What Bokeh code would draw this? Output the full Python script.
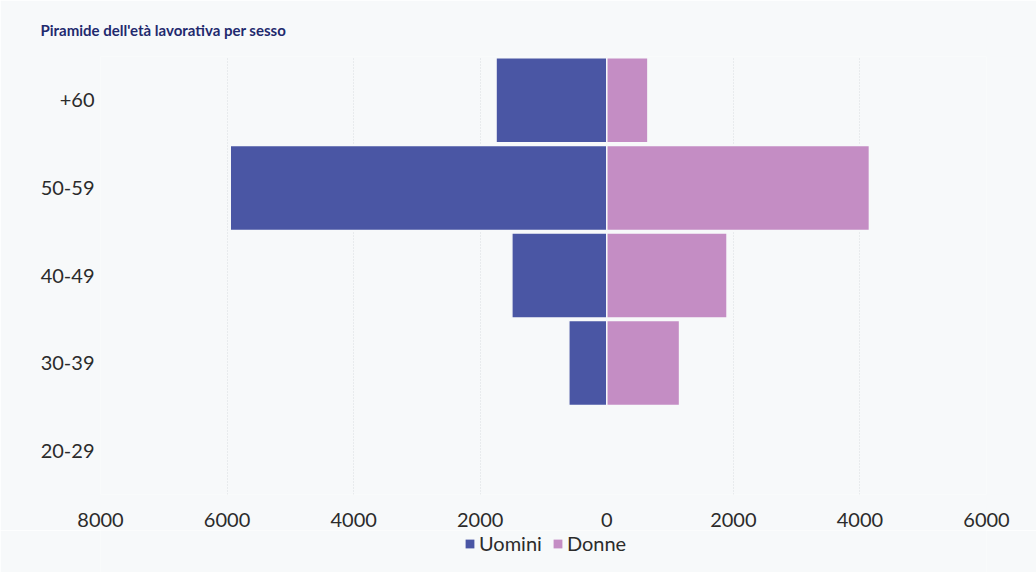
from bokeh.plotting import figure
from bokeh.layouts import column
from bokeh.models import (FactorRange, FixedTicker, CustomJSTickFormatter, Legend,
                          LegendItem, ColumnDataSource)
from bokeh.embed import file_html
from bokeh.resources import INLINE

age_groups = ["20-29", "30-39", "40-49", "50-59", "+60"]
uomini = [0, 600, 1500, 5950, 1750]
donne = [0, 1150, 1900, 4150, 650]
x_ticks = [-8000, -6000, -4000, -2000, 0, 2000, 4000, 6000]
series_names = ["Uomini", "Donne"]
title_text = "Piramide dell'età lavorativa per sesso"

BG = "#f7f9fa"
BLUE = "#4a56a4"
PINK = "#c48dc4"
FONT = "Lato"
TXT = "#2b2b2b"

src = ColumnDataSource(dict(age=age_groups,
                            uomini=[-v for v in uomini],
                            donne=donne))

p = figure(width=1036, height=530, output_backend="svg", toolbar_location=None,
           y_range=FactorRange(*age_groups), x_range=(x_ticks[0], x_ticks[-1]),
           title=title_text)
p.min_border_left = 100
p.min_border_right = 50
p.min_border_top = 54
p.min_border_bottom = 36
p.background_fill_color = BG
p.border_fill_color = BG
p.outline_line_color = None

p.title.text_font = FONT
p.title.text_font_size = "15px"
p.title.text_font_style = "bold"
p.title.text_color = "#1f2a6e"
p.title.standoff = 36
p.title.offset = -60

p.hbar(y="age", left="uomini", right=0, height=0.97, source=src,
       fill_color=BLUE, line_color=BG, line_width=1.5)
p.hbar(y="age", left=0, right="donne", height=0.97, source=src,
       fill_color=PINK, line_color=BG, line_width=1.5)

p.xaxis.ticker = FixedTicker(ticks=x_ticks)
p.xaxis.formatter = CustomJSTickFormatter(code="return Math.abs(tick).toString();")
p.xaxis.axis_line_color = None
p.xaxis.major_tick_line_color = None
p.xaxis.minor_tick_line_color = None
p.xaxis.major_label_text_font = FONT
p.xaxis.major_label_text_font_size = "20px"
p.xaxis.major_label_text_color = TXT
p.xaxis.major_label_standoff = 12

p.yaxis.axis_line_color = None
p.yaxis.major_tick_line_color = None
p.yaxis.major_label_text_font = FONT
p.yaxis.major_label_text_font_size = "20px"
p.yaxis.major_label_text_color = TXT
p.yaxis.major_label_standoff = 0

p.ygrid.grid_line_color = None
p.xgrid.ticker = FixedTicker(ticks=[t for t in x_ticks if t != 0])
p.xgrid.grid_line_color = "#d9dce0"
p.xgrid.grid_line_dash = "1 2"
p.xgrid.grid_line_width = 1

# legend strip below the axis (placeholder glyphs kept outside the visible range)
lf = figure(width=1036, height=42, output_backend="svg", toolbar_location=None,
            x_range=(0, 1), y_range=(0, 1), x_axis_location=None, y_axis_location=None,
            min_border=0)
lf.min_border_left = 0
lf.min_border_right = 0
lf.min_border_top = 0
lf.min_border_bottom = 0
lf.background_fill_color = BG
lf.border_fill_color = BG
lf.outline_line_color = None
lf.grid.grid_line_color = None
hidden = ColumnDataSource(dict(y=[-10], l=[0], r=[0]))
l1 = lf.hbar(y="y", left="l", right="r", height=0.1, source=hidden,
             fill_color=BLUE, line_color=None)
l2 = lf.hbar(y="y", left="l", right="r", height=0.1, source=hidden,
             fill_color=PINK, line_color=None)

legend = Legend(items=[LegendItem(label=series_names[0], renderers=[l1]),
                       LegendItem(label=series_names[1], renderers=[l2])],
                orientation="horizontal", location=(364, 17))
legend.background_fill_alpha = 0
legend.border_line_color = None
legend.label_text_font = FONT
legend.label_text_font_size = "20px"
legend.label_text_color = TXT
legend.glyph_width = 11
legend.glyph_height = 11
legend.label_standoff = 4
legend.spacing = 10
legend.padding = 0
legend.margin = 0
legend.label_height = 20
lf.add_layout(legend)

layout = column(p, lf, spacing=0)
open("out.html", "w").write(file_html(layout, INLINE))
